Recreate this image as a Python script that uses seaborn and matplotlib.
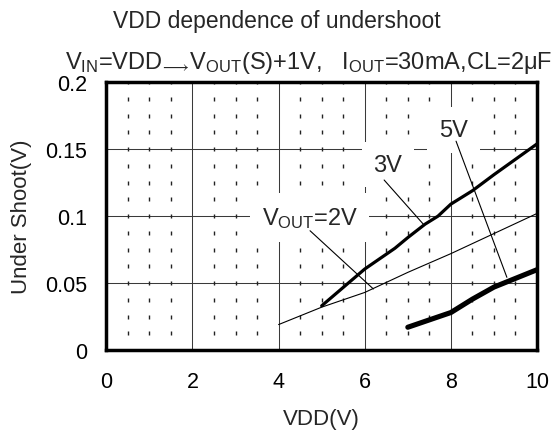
import numpy as np
import pandas as pd
import matplotlib
matplotlib.use("Agg")
import matplotlib.pyplot as plt
import seaborn as sns

# Undershoot vs. supply voltage for three output settings
vdd_2v = [4, 5, 6, 7, 8, 9, 10]
us_2v = [0.019, 0.032, 0.043, 0.058, 0.072, 0.087, 0.102]

vdd_3v = [5, 6, 6.7, 7, 7.4, 7.7, 8, 8.5, 9, 10]
us_3v = [0.033, 0.0605, 0.076, 0.084, 0.094, 0.100, 0.109, 0.119, 0.131, 0.154]

vdd_5v = [7, 7.5, 8, 8.5, 9, 9.5, 10]
us_5v = [0.017, 0.0225, 0.028, 0.038, 0.047, 0.0535, 0.060]

series_names = ["2V", "3V", "5V"]
x_ticks = [0, 2, 4, 6, 8, 10]
y_ticks = [0, 0.05, 0.1, 0.15, 0.2]
y_tick_labels = ["0", "0.05", "0.1", "0.15", "0.2"]

sns.set_style("white")
plt.rcParams["font.family"] = ["Liberation Sans", "DejaVu Sans"]
plt.rcParams["mathtext.fontset"] = "custom"
plt.rcParams["mathtext.rm"] = "Liberation Sans"
plt.rcParams["mathtext.it"] = "Liberation Sans:italic"
plt.rcParams["mathtext.bf"] = "Liberation Sans:bold"
plt.rcParams["mathtext.sf"] = "Liberation Sans"

df = pd.concat([
    pd.DataFrame({"VDD": vdd_2v, "US": us_2v, "series": "2V"}),
    pd.DataFrame({"VDD": vdd_3v, "US": us_3v, "series": "3V"}),
    pd.DataFrame({"VDD": vdd_5v, "US": us_5v, "series": "5V"}),
], ignore_index=True)

fig = plt.figure(figsize=(5.59, 4.35), dpi=100)
ax = fig.add_axes([0.1902, 0.1931, 0.7705, 0.6154])

sns.lineplot(data=df, x="VDD", y="US", hue="series", size="series",
             hue_order=series_names, size_order=series_names,
             palette={s: "black" for s in series_names},
             sizes={"2V": 0.8, "3V": 2.3, "5V": 3.7},
             legend=False, ax=ax, zorder=4, solid_capstyle="round")

ax.set_xlim(0, 10)
ax.set_ylim(0, 0.2)
ax.set_xticks(x_ticks)
ax.set_yticks(y_ticks)
ax.set_yticklabels(y_tick_labels)
ax.tick_params(axis="both", length=0, labelsize=15.5, colors="black")
ax.tick_params(axis="x", pad=15)
ax.tick_params(axis="y", pad=14)

# major grid
ax.grid(True, color="#3a3a3a", lw=0.75, zorder=0)
ax.set_axisbelow(True)

# dotted minor grid: short dashes at each minor crossing
mx = np.arange(0.5, 10, 0.5)
mx = mx[np.abs(mx / 2 - np.round(mx / 2)) > 1e-9]
my = np.arange(0.0125, 0.2001, 0.0125)
gx, gy = np.meshgrid(mx, my)
ax.plot(gx.ravel(), gy.ravel(), ls="none", marker="|", ms=3.2, mew=1.0,
        color="#222222", zorder=1)

for sp in ax.spines.values():
    sp.set_visible(True)
    sp.set_color("black")
    sp.set_linewidth(2.5)
    sp.set_zorder(6)

ax.set_xlabel("VDD(V)", fontsize=16)
ax.set_ylabel("Under Shoot(V)", fontsize=16)
ax.xaxis.set_label_coords(0.5, -0.215)
ax.yaxis.set_label_coords(-0.172, 0.5)

box = dict(boxstyle="square,pad=0.5", fc="white", ec="none")
ax.text(4.72, 0.0941, r"V$_{\mathrm{OUT}}$=2V", fontsize=17, ha="center",
        va="baseline", bbox=box, zorder=2)
ax.text(6.54, 0.134, "3V", fontsize=17, ha="center", va="baseline",
        bbox=box, zorder=2)
ax.text(8.06, 0.160, "5V", fontsize=17, ha="center", va="baseline",
        bbox=box, zorder=2)

# leader lines from labels to curves
leaders = [((4.73, 0.0891), (6.20, 0.0456)),
           ((6.45, 0.127), (7.36, 0.094)),
           ((8.12, 0.156), (9.30, 0.0543))]
for (x0, y0), (x1, y1) in leaders:
    ax.plot([x0, x1], [y0, y1], color="black", lw=0.8, zorder=3)

fig.text(0.495, 0.9356, "VDD dependence of undershoot", fontsize=16.5,
         ha="center", va="baseline")
fig.text(0.553, 0.841,
         r"V$_{\mathrm{IN}}$=VDD$_{\!\longrightarrow\!}$V$_{\mathrm{OUT}}$(S)+1V,   "
         r"I$_{\mathrm{OUT}}$=30mA,CL=2μF",
         fontsize=17, ha="center", va="baseline")

fig.savefig("out.png", dpi=100, facecolor="white")
